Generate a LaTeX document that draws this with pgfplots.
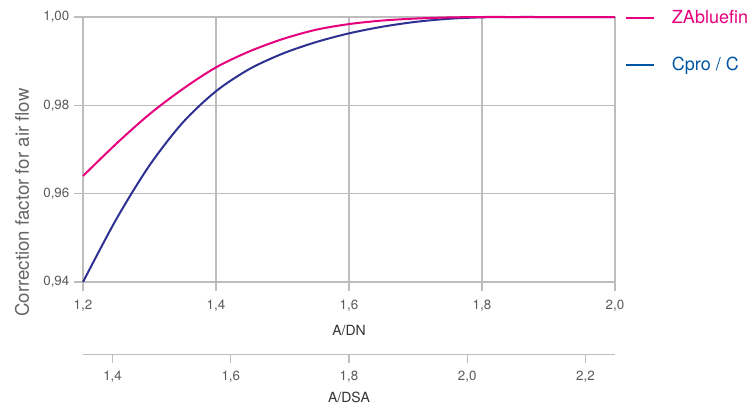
\documentclass[border=0pt]{standalone}
\usepackage{pgfplots}
\pgfplotsset{compat=1.18}
\usepackage{fontspec}
\setmainfont{TeX Gyre Heros}
\definecolor{zapink}{HTML}{E6007E}
\definecolor{cpronavy}{HTML}{2E3192}
\definecolor{cproblue}{HTML}{0055A4}
\definecolor{gridgray}{HTML}{BDBDBD}
\definecolor{textgray}{HTML}{5A5A5A}
\definecolor{labelgray}{HTML}{333333}
\definecolor{ylabgray}{HTML}{666666}

\pgfplotstableread{
x y
1.20 0.9400
1.25 0.9542
1.30 0.9664
1.35 0.9761
1.40 0.9832
1.45 0.9882
1.50 0.9917
1.55 0.9943
1.60 0.9963
1.65 0.9978
1.70 0.9989
1.75 0.9996
1.80 0.99993
1.85 1.0000
1.90 1.0000
1.95 1.0000
2.00 1.0000
}\cprodata

\pgfplotstableread{
x y
1.20 0.9640
1.25 0.9713
1.30 0.9780
1.35 0.9837
1.40 0.9886
1.45 0.9922
1.50 0.9950
1.55 0.9971
1.60 0.9984
1.65 0.9992
1.70 0.99965
1.75 0.9999
1.80 1.0000
1.85 1.0000
1.90 1.0000
1.95 1.0000
2.00 1.0000
}\zadata

\begin{document}
\begin{tikzpicture}
\useasboundingbox (-62.25pt,-92.25pt) rectangle (499.5pt,211.5pt);
\begin{axis}[
  at={(0pt,0pt)}, anchor=south west,
  scale only axis, width=399pt, height=198.75pt,
  xmin=1.2, xmax=2.0, ymin=0.94, ymax=1.0,
  xtick={1.2,1.4,1.6,1.8,2.0}, ytick={0.94,0.96,0.98,1.0},
  tick pos=left, tick align=outside, major tick length=6.75pt,
  axis line style={draw=none},
  grid=major, major grid style={draw=gridgray, line width=1pt},
  tick style={draw=gridgray, line width=1pt},
  clip=false,
  /pgf/number format/assume math mode=true,
  ticklabel style={font=\fontsize{10}{12}\selectfont, text=textgray},
  xticklabel style={yshift=-3.5pt, /pgf/number format/.cd, fixed, fixed zerofill, precision=1, use comma},
  yticklabel style={/pgf/number format/.cd, fixed, fixed zerofill, precision=2, use comma},
  xlabel={A/DN},
  xlabel style={font=\fontsize{10.5}{12}\selectfont, text=labelgray, at={(axis description cs:0.5,0)}, anchor=center, yshift=-36.5pt},
  ylabel={Correction factor for air flow},
  ylabel style={font=\fontsize{14}{16}\selectfont, text=ylabgray, at={([xshift=-45.75pt]axis description cs:0,0.30)}, anchor=center},
  legend style={at={(axis description cs:1,1)}, anchor=north west, draw=none, fill=none,
    font=\fontsize{13.5}{16}\selectfont, row sep=19.75pt, column sep=11pt, xshift=4pt, yshift=9.3pt},
  legend cell align=left,
  legend image code/.code={\draw[#1] (0pt,0pt) -- (21pt,0pt);},
]
\addlegendimage{zapink, line width=1.5pt}
\addlegendentry{\textcolor{zapink}{ZAbluefin}}
\addlegendimage{cproblue, line width=1.5pt}
\addlegendentry{\textcolor{cproblue}{Cpro / C}}
\addplot[cpronavy, line width=1.5pt, smooth, forget plot] table[x=x,y=y] {\cprodata};
\addplot[zapink, line width=1.5pt, smooth, forget plot] table[x=x,y=y] {\zadata};
\end{axis}
\begin{axis}[
  at={(0pt,-54.25pt)}, anchor=south west,
  scale only axis, width=399pt, height=10pt,
  xmin=1.35, xmax=2.25, ymin=0, ymax=1,
  hide y axis,
  axis x line*=bottom,
  x axis line style={draw=gridgray, line width=1pt, -},
  xtick={1.4,1.6,1.8,2.0,2.2},
  tick align=outside, major tick length=6.75pt,
  tick style={draw=gridgray, line width=1pt},
  /pgf/number format/assume math mode=true,
  ticklabel style={font=\fontsize{10}{12}\selectfont, text=textgray},
  xticklabel style={yshift=-2.25pt, /pgf/number format/.cd, fixed, fixed zerofill, precision=1, use comma},
  xlabel={A/DSA},
  xlabel style={font=\fontsize{10.5}{12}\selectfont, text=labelgray, at={(axis description cs:0.5,0)}, anchor=center, yshift=-32.25pt},
]
\addplot[draw=none] coordinates {(1.35,0) (2.25,0)};
\end{axis}
\end{tikzpicture}
\end{document}
